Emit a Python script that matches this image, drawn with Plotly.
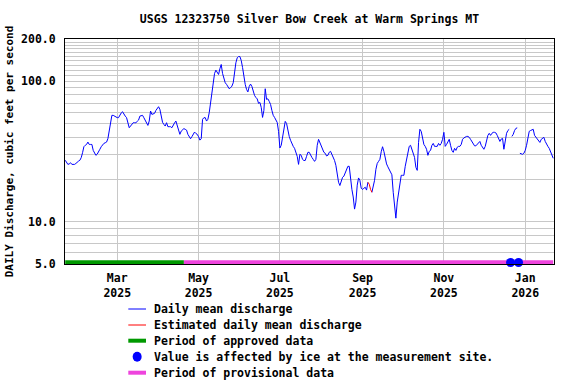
import math
import pandas as pd
import plotly.graph_objects as go

# ---------------- data ----------------
start_date = "2025-01-21"
# Daily mean discharge, cubic feet per second (None = ice-affected, no value)
daily_cfs = [
    27.4, 26.4, 25.6, 25.8, 26.3, 25.6, 25.6, 25.6, 26.0, 26.7,
    27.0, 27.4, 28.6, 31.0, 34.2, 35.0, 35.5, 36.9, 35.5, 35.5,
    35.5, 32.2, 31.0, 29.7, 30.3, 31.3, 32.8, 34.2, 35.3, 36.1,
    36.5, 36.9, 39.0, 45.5, 52.1, 57.2, 57.2, 56.5, 55.1, 55.1,
    55.1, 58.1, 59.5, 60.7, 58.1, 56.5, 55.1, 51.2, 46.7, 48.0,
    49.5, 50.7, 50.7, 50.7, 51.8, 52.9, 56.5, 57.2, 57.2, 55.0,
    52.5, 50.0, 48.5, 52.1, 61.4, 58.1, 58.5, 59.1, 62.0, 64.8,
    65.9, 63.1, 55.1, 51.0, 49.3, 48.0, 50.7, 47.5, 47.5, 47.5,
    46.7, 49.3, 50.5, 52.1, 48.0, 44.0, 41.9, 44.2, 45.2, 46.0,
    45.5, 44.9, 41.9, 40.0, 39.0, 40.3, 42.0, 43.5, 42.5, 41.9,
    40.3, 38.1, 39.0, 53.6, 55.0, 55.1, 52.1, 53.6, 59.7, 70.4,
    82.9, 97.6, 113.7, 120.0, 115.0, 111.8, 122.8, 131.7, 113.7, 103.0,
    97.6, 95.0, 91.4, 88.5, 90.0, 92.3, 97.6, 118.1, 135.5, 147.0,
    150.0, 150.0, 140.7, 125.4, 104.8, 95.0, 87.5, 84.0, 91.9, 95.5,
    91.9, 83.3, 79.3, 76.7, 74.9, 69.6, 70.7, 65.2, 55.3, 62.0,
    88.5, 74.3, 75.0, 71.9, 68.4, 62.0, 57.2, 55.3, 53.1, 50.9,
    44.0, 33.5, 35.0, 40.5, 48.5, 51.8, 50.1, 44.0, 40.5, 38.0,
    35.5, 34.4, 33.3, 31.2, 29.2, 25.6, 30.2, 29.7, 27.8, 27.3,
    27.3, 29.2, 31.2, 31.2, 29.7, 28.7, 27.8, 26.9, 27.8, 35.0,
    38.6, 36.7, 33.9, 32.2, 31.2, 30.7, 29.4, 29.7, 31.2, 31.7,
    30.2, 28.7, 27.3, 25.2, 21.4, 19.1, 18.1, 19.4, 20.7, 21.1,
    22.2, 22.9, 24.8, 24.8, 19.7, 17.0, 15.0, 12.3, 13.8, 18.2,
    20.5, 19.7, 17.3, 17.0, 17.3, 17.6, 16.8, 19.1, 18.5, 17.0,
    16.2, 17.6, 19.7, 23.6, 26.0, 26.9, 27.8, 31.5, 34.2, 31.7,
    28.3, 25.8, 24.6, 23.6, 22.9, 21.6, 16.2, 13.1, 10.6, 13.8,
    16.5, 18.4, 21.4, 21.4, 21.4, 24.8, 28.3, 31.2, 34.4, 35.0,
    32.8, 30.7, 28.7, 24.4, 23.2, 36.7, 45.5, 44.0, 39.2, 35.5,
    34.4, 32.8, 29.7, 31.7, 32.2, 35.0, 36.1, 34.4, 34.4, 34.4,
    36.1, 35.0, 36.1, 38.6, 43.3, 34.4, 35.5, 37.3, 38.6, 35.0,
    32.2, 31.2, 33.3, 32.2, 33.9, 34.4, 34.4, 35.5, 38.6, 39.5,
    40.2, 40.5, 40.5, 39.9, 38.6, 37.0, 36.1, 34.7, 34.7, 35.5,
    36.7, 37.3, 35.0, 33.9, 32.8, 34.4, 37.9, 41.2, 42.6, 41.2,
    42.6, 43.3, 43.3, 42.9, 41.2, 39.5, 37.3, 38.8, 39.2, 32.8,
    38.6, 42.6, 44.6, 45.5, None, 40.5, 41.9, 44.6, 46.2, 46.6,
    None, 30.7, 30.5, 30.2, 30.7, 32.2, 35.0, 40.5, 44.0, 44.6,
    45.1, 45.5, 41.2, 39.9, 38.6, 37.9, 36.7, 38.6, 39.5, 39.9,
    37.3, 35.5, 34.4, 33.3, 31.2, 30.2, 28.3,
]
estimated_period = ["2025-09-05", "2025-09-08"]
ice_dates = ["2025-12-21", "2025-12-27"]
approved_period = ["2025-01-21", "2025-04-20"]
provisional_period = ["2025-04-20", "2026-01-22"]

x_tick_dates = ["2025-03-01", "2025-05-01", "2025-07-01",
                "2025-09-01", "2025-11-01", "2026-01-01"]
x_tick_labels = ["Mar<br>2025", "May<br>2025", "Jul<br>2025",
                 "Sep<br>2025", "Nov<br>2025", "Jan<br>2026"]
y_grid_vals = [5, 6, 7, 8, 9, 10, 20, 30, 40, 50, 60, 70, 80, 90,
               100, 110, 120, 130, 140, 150, 160, 170, 180, 190, 200]
y_labeled = {5: "5.0", 10: "10.0", 100: "100.0", 200: "200.0"}

title_text = "USGS 12323750 Silver Bow Creek at Warm Springs MT"
y_title = "DAILY Discharge, cubic feet per second"
legend_labels = ["Daily mean discharge",
                 "Estimated daily mean discharge",
                 "Period of approved data",
                 "Value is affected by ice at the measurement site.",
                 "Period of provisional data"]

# ---------------- styling ----------------
W, H = 576, 384
L, R, T, B = 65, 22, 39, 120
FONT = dict(family="DejaVu Sans Mono", size=11.5, color="black", weight="bold")
BLUE, RED, GREEN, PINK = "#0000ff", "#ff0000", "#009900", "#ee44dd"
GRID = "#c8c8c8"
Y_MIN, Y_MAX = 5, 200
BAR_Y = 5.14   # status bars drawn along the bottom of the plot
ICE_Y = 5.12

dates = pd.date_range(start_date, periods=len(daily_cfs), freq="D")
est0, est1 = pd.Timestamp(estimated_period[0]), pd.Timestamp(estimated_period[1])
blue_vals = [v if not (est0 < d < est1) else None for d, v in zip(dates, daily_cfs)]
red_dates = [d for d in dates if est0 <= d <= est1]
red_vals = [v for d, v in zip(dates, daily_cfs) if est0 <= d <= est1]

fig = go.Figure()
fig.add_trace(go.Scatter(x=approved_period, y=[BAR_Y] * 2, mode="lines",
                         line=dict(color=GREEN, width=4), hoverinfo="skip"))
fig.add_trace(go.Scatter(x=provisional_period, y=[BAR_Y] * 2, mode="lines",
                         line=dict(color=PINK, width=4), hoverinfo="skip"))
fig.add_trace(go.Scatter(x=dates, y=blue_vals, mode="lines",
                         line=dict(color=BLUE, width=1), connectgaps=False))
fig.add_trace(go.Scatter(x=red_dates, y=red_vals, mode="lines",
                         line=dict(color=RED, width=1)))
fig.add_trace(go.Scatter(x=ice_dates, y=[ICE_Y] * len(ice_dates), mode="markers",
                         marker=dict(color=BLUE, size=9, symbol="circle"),
                         cliponaxis=False))

# ---------------- legend (drawn below the plot) ----------------
PW, PH = W - L - R, H - T - B


def pxx(px):
    return (px - L) / PW


def pxy(py):
    return (H - B - py) / PH


leg_rows = [309, 325, 340.7, 356.7, 372.7]
sample_x0, sample_x1, text_x = 128.3, 146, 152.3
shapes = []
styles = [(BLUE, 1), (RED, 1), (GREEN, 4), None, (PINK, 4)]
for row, st in zip(leg_rows, styles):
    if st is None:
        cx = (sample_x0 + sample_x1) / 2
        shapes.append(dict(type="circle", xref="paper", yref="paper",
                           xsizemode="pixel", ysizemode="pixel",
                           xanchor=pxx(cx), yanchor=pxy(row),
                           x0=-4.5, x1=4.5, y0=-5, y1=5,
                           fillcolor=BLUE, line=dict(width=0)))
    else:
        shapes.append(dict(type="line", xref="paper", yref="paper",
                           x0=pxx(sample_x0), x1=pxx(sample_x1),
                           y0=pxy(row), y1=pxy(row),
                           line=dict(color=st[0], width=st[1])))
annotations = []
for row, lab in zip(leg_rows, legend_labels):
    annotations.append(dict(text=lab, xref="paper", yref="paper",
                            x=pxx(text_x), y=pxy(row), xanchor="left",
                            yanchor="middle", showarrow=False, font=FONT))

fig.update_layout(
    width=W, height=H,
    margin=dict(l=L, r=R, t=T, b=B, autoexpand=False),
    paper_bgcolor="white", plot_bgcolor="white",
    showlegend=False,
    font=FONT,
    title=dict(text=title_text, x=(L + PW / 2) / W, xanchor="center",
               y=1 - 19 / H, yanchor="middle", yref="container", font=FONT,
               automargin=False),
    shapes=shapes, annotations=annotations,
)
fig.update_xaxes(
    type="date", range=["2025-01-20 20:00", "2026-01-22 14:00"],
    tickmode="array", tickvals=x_tick_dates, ticktext=x_tick_labels,
    showgrid=True, gridcolor=GRID, gridwidth=1,
    showline=True, linecolor="black", linewidth=1, mirror=True,
    ticks="", ticklabelstandoff=3, tickfont=FONT, zeroline=False,
    automargin=False,
)
fig.update_yaxes(
    type="log", range=[math.log10(Y_MIN), math.log10(Y_MAX)],
    tickmode="array", tickvals=y_grid_vals,
    ticktext=[y_labeled.get(v, "") for v in y_grid_vals],
    showgrid=True, gridcolor=GRID, gridwidth=1,
    showline=True, linecolor="black", linewidth=1, mirror=True,
    ticks="", ticklabelstandoff=6, tickfont=FONT, zeroline=False,
    automargin=False,
    title=dict(text=y_title, font=dict(family="DejaVu Sans Mono", size=11,
                                       color="black", weight="bold"),
               standoff=5),
)

fig.write_html("out.html",
               config={"displayModeBar": False},
               post_script="document.body.style.margin='0';"
                           "document.body.style.padding='0';")
